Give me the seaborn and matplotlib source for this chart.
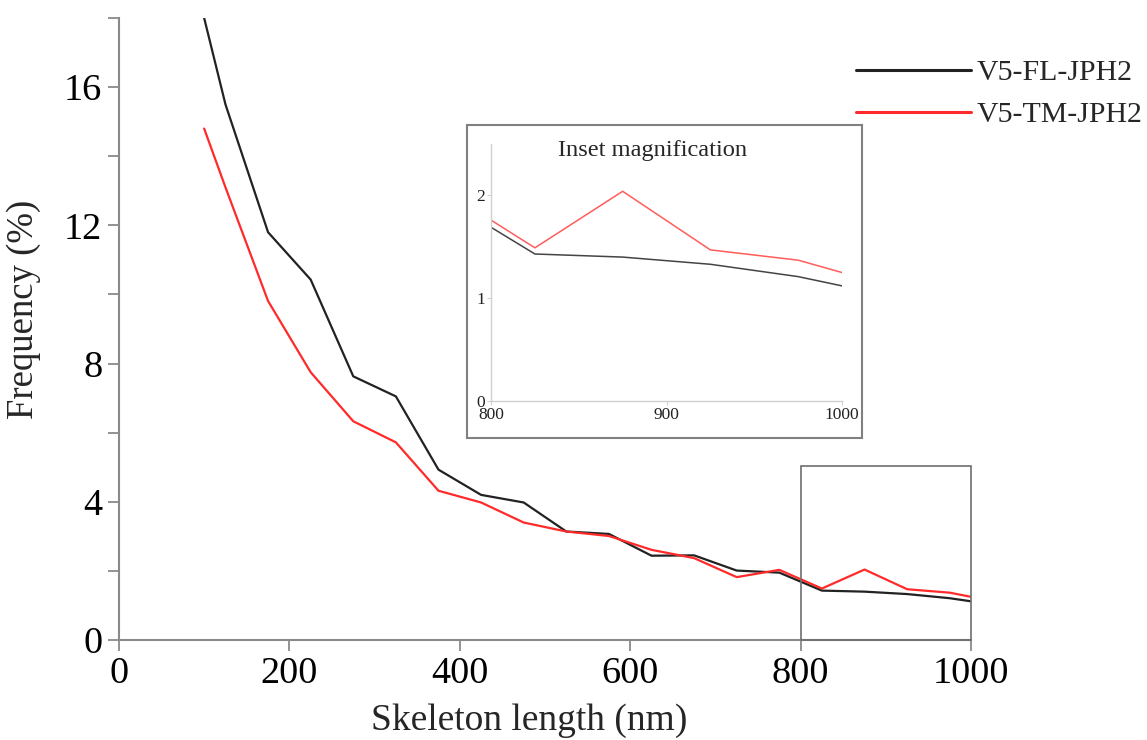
import matplotlib
matplotlib.use("Agg")
import matplotlib.pyplot as plt
from matplotlib.patches import Rectangle
from matplotlib.lines import Line2D
import seaborn as sns
import pandas as pd

# ---- data ----
lengths = [100, 125, 175, 225, 275, 325, 375, 425, 475, 525,
           575, 625, 675, 725, 775, 825, 875, 925, 975, 1000]
fl_jph2 = [18.0, 15.5, 11.8, 10.43, 7.63, 7.05, 4.93, 4.20, 3.98, 3.14,
           3.07, 2.44, 2.45, 2.01, 1.95, 1.43, 1.40, 1.33, 1.21, 1.12]
tm_jph2 = [14.8, 13.1, 9.81, 7.75, 6.33, 5.72, 4.32, 3.98, 3.40, 3.14,
           3.01, 2.61, 2.37, 1.82, 2.03, 1.49, 2.04, 1.47, 1.37, 1.25]
series_names = ["V5-FL-JPH2", "V5-TM-JPH2"]
x_ticks = [0, 200, 400, 600, 800, 1000]
y_major = [0, 4, 8, 12, 16]
y_minor = [2, 6, 10, 14, 18]
inset_xticks = [800, 900, 1000]
inset_yticks = [0, 1, 2]

df = pd.DataFrame({
    "length": lengths * 2,
    "freq": fl_jph2 + tm_jph2,
    "series": [series_names[0]] * len(lengths) + [series_names[1]] * len(lengths),
})

sns.set_theme(style="white")
plt.rcParams["font.family"] = ["Liberation Serif", "DejaVu Serif"]

fig = plt.figure(figsize=(11.47, 7.40), dpi=100)
ax = fig.add_axes([0.1037, 0.1351, 0.7429, 0.8406])

main_pal = {series_names[0]: "#222222", series_names[1]: "#ff2a2a"}
sns.lineplot(data=df, x="length", y="freq", hue="series", palette=main_pal,
             linewidth=1.6, ax=ax, legend=False)

ax.set_xlim(0, 1000)
ax.set_ylim(0, 18)
ax.set_xticks(x_ticks)
ax.set_xticklabels([str(v) for v in x_ticks])
ax.set_yticks(y_major)
ax.set_yticklabels([str(v) for v in y_major])
ax.set_yticks(y_minor, minor=True)
for s in ["top", "right"]:
    ax.spines[s].set_visible(False)
for s in ["left", "bottom"]:
    ax.spines[s].set_color("#8a8a8a")
    ax.spines[s].set_linewidth(1.5)
ax.tick_params(axis="both", which="both", direction="out", length=8, width=1.3,
               color="#8a8a8a", labelsize=27.5, pad=4, labelcolor="black",
               bottom=True, left=True)
ax.tick_params(axis="x", which="minor", length=0)
ax.set_xlabel("Skeleton length (nm)", fontsize=27)
ax.set_ylabel("Frequency (%)", fontsize=26.5)
ax.xaxis.set_label_coords(0.482, -0.102)
ax.yaxis.set_label_coords(-0.091, 0.532)

# zoom box
ax.add_patch(Rectangle((800, 0), 200, 5.05, fill=False, edgecolor="#6e6e6e",
                       linewidth=1.2, clip_on=False, zorder=3))

# legend
handles = [Line2D([0], [0], color=main_pal[n], linewidth=2.2) for n in series_names]
ax.legend(handles, series_names, loc="upper left", bbox_to_anchor=(0.7465, 0.9195),
          bbox_transform=fig.transFigure, frameon=False, fontsize=21.5,
          handlelength=3.85, handletextpad=0.17, borderpad=0, borderaxespad=0,
          labelspacing=0.5)

# inset outer frame
fig.patches.append(Rectangle((0.4071, 0.4081), 0.3444, 0.423, transform=fig.transFigure,
                             fill=False, edgecolor="#808080", linewidth=1.5, zorder=5))

# inset axes
iax = fig.add_axes([0.4281, 0.4581, 0.306, 0.3473])
ins_pal = {series_names[0]: "#444444", series_names[1]: "#ff5c5c"}
sns.lineplot(data=df, x="length", y="freq", hue="series", palette=ins_pal,
             linewidth=1.1, ax=iax, legend=False)
iax.set_xlim(800, 1000)
iax.set_ylim(0, 2.5)
iax.set_xticks(inset_xticks)
iax.set_xticklabels([str(v) for v in inset_xticks])
iax.set_yticks(inset_yticks)
iax.set_yticklabels([str(v) for v in inset_yticks])
iax.set_xlabel("")
iax.set_ylabel("")
iax.patch.set_alpha(0)
for s in ["top", "right"]:
    iax.spines[s].set_visible(False)
for s in ["left", "bottom"]:
    iax.spines[s].set_color("#d0d0d0")
    iax.spines[s].set_linewidth(1.0)
iax.tick_params(axis="both", direction="out", length=3, width=0.8, color="#d0d0d0",
                labelsize=12.5, pad=1, labelcolor="#222222", bottom=True, left=True)
iax.text(0.46, 0.973, "Inset magnification", transform=iax.transAxes,
         ha="center", va="center", fontsize=17.6)

fig.savefig("out.png", dpi=100)
